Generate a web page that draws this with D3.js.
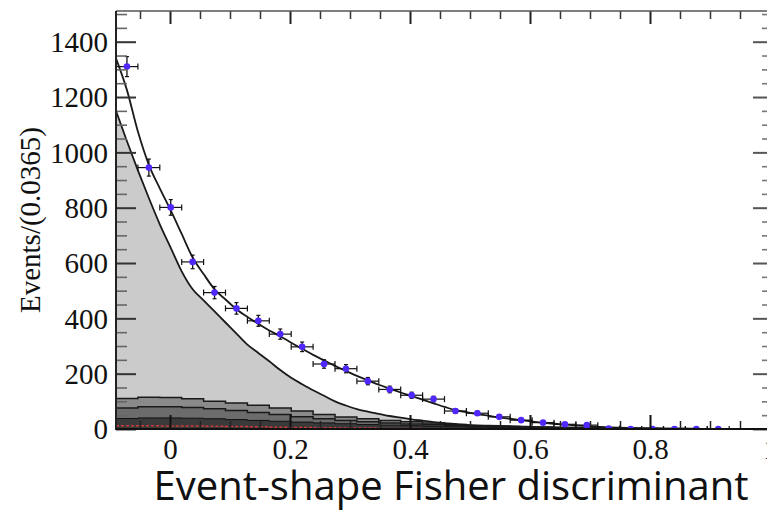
<!DOCTYPE html>
<html><head><meta charset="utf-8">
<script src="https://cdn.jsdelivr.net/npm/d3@7"></script>
<style>body{margin:0;background:#fff} svg{display:block}</style>
</head><body><svg id="c" width="767" height="513"></svg>
<script>
// ---- data ----
const binStart = -0.09, binWidth = 0.0365, nBins = 30;
const dataCounts = [1310,945,801,604,493,436,391,343,297,235,218,173,143,122,108,65,57,44,32,23,17,14,2,0,0,0,0,0];
// fit curves sampled every half bin (61 samples from -0.09 to 1.005)
const totalPdf = [1340,1225,1075,955,870,790,705,620,560,505,468,433,405,380,356,335,312,290,268,248,228,210,192,176,160,146,132,119,106,93,80,68,61,54,48,42,37,32,27,23,19,16,13,10,8,6,4.5,3.5,2.5,2,1.5,1,1,0.5,0.5,0,0,0,0,0,0];
const contPdf = [1150,1040,935,835,740,655,570,505,465,425,385,345,305,275,245,213,185,162,140,120,100,85,72,63,55,47,41,35,30,25,21,18,15,13,12,11,10,9,8,7,6,5,5,4,4,3,3,2,2,2,1,1,1,1,0.5,0.5,0,0,0,0,0];
// stacked background components (per bin)
const bkg1 = [110,115,114,109,100,94,86,76,65,52,43,37,31,26,22,16,12,10,8,6,5,4,3,2,2,1,1,1,1,1];
const bkg2 = [76,80,80,78,73,67,60,52,44,37,31,26,22,18,15,12,10,8,6,5,4,3,2,2,1,1,1,0,0,0];
const bkg3 = [38,40,40,39,37,34,31,28,25,22,19,16,14,12,10,8,7,6,5,4,3,2,2,1,1,0,0,0,0,0];
const bkgRed = [12,12,11,11,10,9,8,6,5,4,3,3,2,2,1,1,1,1,0,0,0,0,0,0,0,0,0,0,0,0];
const xMajorTicks = [0,0.2,0.4,0.6,0.8,1];
const xTickLabels = ["0","0.2","0.4","0.6","0.8","1"];
const yMajorTicks = [0,200,400,600,800,1000,1200,1400];
const yTickLabels = ["0","200","400","600","800","1000","1200","1400"];
const xTitle = "Event-shape Fisher discriminant";
const yTitle = "Events/(0.0365)";

// ---- layout ----
const L = 116, R = 773, T = 11, B = 429;
const xEnd = binStart + binWidth*nBins;
const x = d3.scaleLinear().domain([binStart, xEnd]).range([L, R]);
const y = d3.scaleLinear().domain([0, 1511]).range([B, T]);
const svg = d3.select("#c");

svg.append("defs").append("clipPath").attr("id","clip")
  .append("rect").attr("x",L).attr("y",T).attr("width",R-L).attr("height",B-T);
const g = svg.append("g").attr("clip-path","url(#clip)");

const edge = i => binStart + i*binWidth;
const center = i => binStart + (i+0.5)*binWidth;
const half = k => binStart + k*binWidth/2;

function stepPts(arr){ const p = arr.map((v,i)=>[edge(i),v]); p.push([edge(arr.length),arr[arr.length-1]]); return p; }
const stepArea = d3.area().x(d=>x(d[0])).y0(y(0)).y1(d=>y(d[1])).curve(d3.curveStepAfter);
const stepLine = d3.line().x(d=>x(d[0])).y(d=>y(d[1])).curve(d3.curveStepAfter);
const smoothArea = d3.area().x(d=>x(d[0])).y0(y(0)).y1(d=>y(d[1])).curve(d3.curveMonotoneX);
const smoothLine = d3.line().x(d=>x(d[0])).y(d=>y(d[1])).curve(d3.curveMonotoneX);

const contPts = contPdf.map((v,k)=>[half(k),v]);
const totPts = totalPdf.map((v,k)=>[half(k),v]);

g.append("path").attr("d", smoothArea(contPts)).attr("fill","#cbcbcb");
g.append("path").attr("d", stepArea(stepPts(bkg1))).attr("fill","#8a8a8a");
g.append("path").attr("d", stepArea(stepPts(bkg2))).attr("fill","#6c6c6c");
g.append("path").attr("d", stepArea(stepPts(bkg3))).attr("fill","#3a3a3a");
g.append("path").attr("d", stepLine(stepPts(bkgRed))).attr("fill","none")
  .attr("stroke","#d03a3a").attr("stroke-width",1.6).attr("stroke-dasharray","3,2");
g.append("path").attr("d", stepLine(stepPts(bkg3))).attr("fill","none").attr("stroke","#111").attr("stroke-width",1);
g.append("path").attr("d", stepLine(stepPts(bkg2))).attr("fill","none").attr("stroke","#1a1a1a").attr("stroke-width",1.5);
g.append("path").attr("d", stepLine(stepPts(bkg1))).attr("fill","none").attr("stroke","#1a1a1a").attr("stroke-width",1.5);
g.append("path").attr("d", smoothLine(contPts)).attr("fill","none").attr("stroke","#1a1a1a").attr("stroke-width",1.8);
g.append("path").attr("d", smoothLine(totPts)).attr("fill","none").attr("stroke","#1a1a1a").attr("stroke-width",1.8);

// data points with error bars
const pts = g.append("g");
dataCounts.forEach((c,i)=>{
  const cx = x(center(i)), cy = y(c), e = Math.sqrt(c);
  const x0 = x(edge(i)), x1 = x(edge(i+1));
  pts.append("line").attr("x1",x0).attr("x2",x1).attr("y1",cy).attr("y2",cy).attr("stroke","#111").attr("stroke-width",1.2);
  pts.append("line").attr("x1",x0).attr("x2",x0).attr("y1",cy-3).attr("y2",cy+3).attr("stroke","#111").attr("stroke-width",1.2);
  pts.append("line").attr("x1",x1).attr("x2",x1).attr("y1",cy-3).attr("y2",cy+3).attr("stroke","#111").attr("stroke-width",1.2);
  if (e > 0) {
    const ya = y(c+e), yb = y(c-e);
    pts.append("line").attr("x1",cx).attr("x2",cx).attr("y1",ya).attr("y2",yb).attr("stroke","#111").attr("stroke-width",1.3);
    pts.append("line").attr("x1",cx-2).attr("x2",cx+2).attr("y1",ya).attr("y2",ya).attr("stroke","#111").attr("stroke-width",1.2);
    pts.append("line").attr("x1",cx-2).attr("x2",cx+2).attr("y1",yb).attr("y2",yb).attr("stroke","#111").attr("stroke-width",1.2);
  }
  pts.append("circle").attr("cx",cx).attr("cy",cy).attr("r",3.3).attr("fill","#5028ff");
});

// ---- axes ----
const xMinor = d3.range(-0.05, 1.0001, 0.05).filter(v=>!xMajorTicks.some(m=>Math.abs(m-v)<1e-6));
const yMinor = d3.range(50, 1501, 50).filter(v=>v%200!==0);
const serif = "'Liberation Serif','Times New Roman',serif";

function styleAxis(sel, col, w){ sel.select(".domain").remove(); sel.selectAll("line").attr("stroke",col).attr("stroke-width",w); }

// bottom
svg.append("g").attr("transform",`translate(0,${B})`)
  .call(d3.axisBottom(x).tickValues(xMinor).tickSize(-8).tickFormat(""))
  .call(s=>styleAxis(s,"#222",1.5));
const xb = svg.append("g").attr("transform",`translate(0,${B})`)
  .call(d3.axisBottom(x).tickValues(xMajorTicks).tickSize(-14).tickFormat((d,i)=>xTickLabels[i]))
  .call(s=>styleAxis(s,"#111",2));
xb.selectAll("text").attr("y",30).attr("dy","0").attr("font-family",serif).attr("font-size",29).attr("fill","#111");
// top
svg.append("g").attr("transform",`translate(0,${T})`)
  .call(d3.axisTop(x).tickValues(xMinor).tickSize(-8).tickFormat("")).call(s=>styleAxis(s,"#333",1.5));
svg.append("g").attr("transform",`translate(0,${T})`)
  .call(d3.axisTop(x).tickValues(xMajorTicks).tickSize(-13).tickFormat("")).call(s=>styleAxis(s,"#222",2));
// left
svg.append("g").attr("transform",`translate(${L},0)`)
  .call(d3.axisLeft(y).tickValues(yMinor).tickSize(-11).tickFormat("")).call(s=>styleAxis(s,"#666",1.6));
const yl = svg.append("g").attr("transform",`translate(${L},0)`)
  .call(d3.axisLeft(y).tickValues(yMajorTicks).tickSize(-20).tickFormat((d,i)=>yTickLabels[i]))
  .call(s=>styleAxis(s,"#333",2));
yl.selectAll("text").attr("x",-8).attr("dy","0.34em").attr("font-family",serif).attr("font-size",29).attr("fill","#111");
// right
svg.append("g").attr("transform",`translate(${R},0)`)
  .call(d3.axisRight(y).tickValues(yMinor).tickSize(-11).tickFormat("")).call(s=>styleAxis(s,"#777",1.6));
svg.append("g").attr("transform",`translate(${R},0)`)
  .call(d3.axisRight(y).tickValues(yMajorTicks).tickSize(-20).tickFormat("")).call(s=>styleAxis(s,"#555",2));

// frame
svg.append("line").attr("x1",L).attr("x2",R).attr("y1",T).attr("y2",T).attr("stroke","#555").attr("stroke-width",1.6);
svg.append("line").attr("x1",L).attr("x2",L).attr("y1",T).attr("y2",B+1).attr("stroke","#222").attr("stroke-width",2);
svg.append("line").attr("x1",L).attr("x2",R).attr("y1",B).attr("y2",B).attr("stroke","#111").attr("stroke-width",2.2);

// titles
svg.append("text").attr("transform",`translate(40,220) rotate(-90)`).attr("text-anchor","middle")
  .attr("font-family",serif).attr("font-size",29).attr("fill","#111").text(yTitle);
svg.append("text").attr("x",451).attr("y",500).attr("text-anchor","middle")
  .attr("font-family","'Open Sans','Noto Sans',sans-serif").attr("font-size",40).attr("fill","#111").text(xTitle);
</script></body></html>
